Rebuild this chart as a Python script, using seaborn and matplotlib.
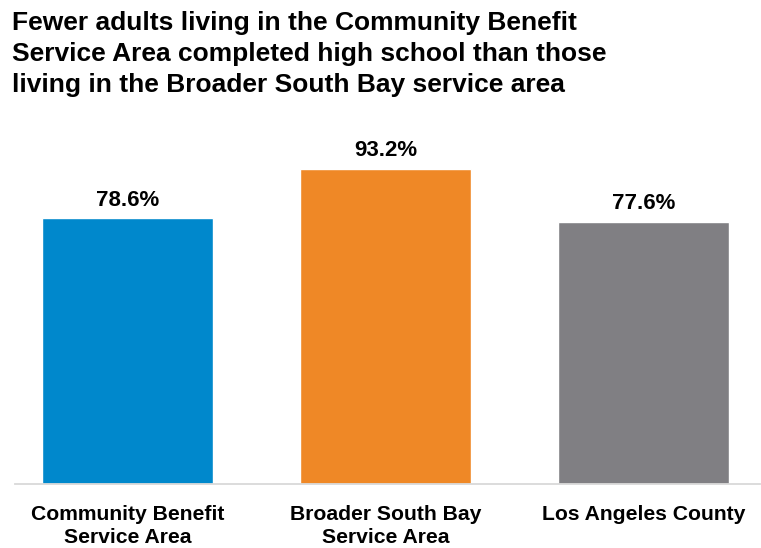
import matplotlib
matplotlib.use("Agg")
import matplotlib.pyplot as plt
import seaborn as sns
import pandas as pd

categories = ["Community Benefit\nService Area", "Broader South Bay\nService Area", "Los Angeles County"]
values = [78.6, 93.2, 77.6]
colors = ["#0088CC", "#EF8826", "#807F83"]
title = ("Fewer adults living in the Community Benefit\n"
         "Service Area completed high school than those\n"
         "living in the Broader South Bay service area")

sns.set_theme(style="white")
plt.rcParams["font.family"] = ["Liberation Sans", "DejaVu Sans"]

df = pd.DataFrame({"category": categories, "value": values})

fig = plt.figure(figsize=(7.61, 5.48), dpi=100)
W, H = 761, 548
ax = fig.add_axes([15 / W, (H - 484) / H, (760 - 15) / W, (484 - 129) / H])

sns.barplot(data=df, x="category", y="value", hue="category", palette=colors,
            order=categories, hue_order=categories, width=0.663, dodge=False,
            legend=False, ax=ax, saturation=1)

ax.set_ylim(0, 105)
ax.set_xlim(-0.436, 2.45)
for s in ["top", "right", "left"]:
    ax.spines[s].set_visible(False)
ax.spines["bottom"].set_color("#D9D9D9")
ax.spines["bottom"].set_linewidth(1.3)
ax.set_yticks([])
ax.set_xlabel("")
ax.set_ylabel("")
ax.tick_params(axis="x", length=0, pad=15)
for lbl in ax.get_xticklabels():
    lbl.set_fontsize(15.2)
    lbl.set_fontweight("bold")
    lbl.set_color("black")
    lbl.set_linespacing(1.3)

for i, v in enumerate(values):
    ax.text(i, v + 2.2, f"{v:.1f}%", ha="center", va="bottom",
            fontsize=16, fontweight="bold", color="black")

fig.text(12 / W, 1 - 11 / H, title, ha="left", va="top", fontsize=19,
         fontweight="bold", color="black", linespacing=1.38)

fig.savefig("out.png", dpi=100)
